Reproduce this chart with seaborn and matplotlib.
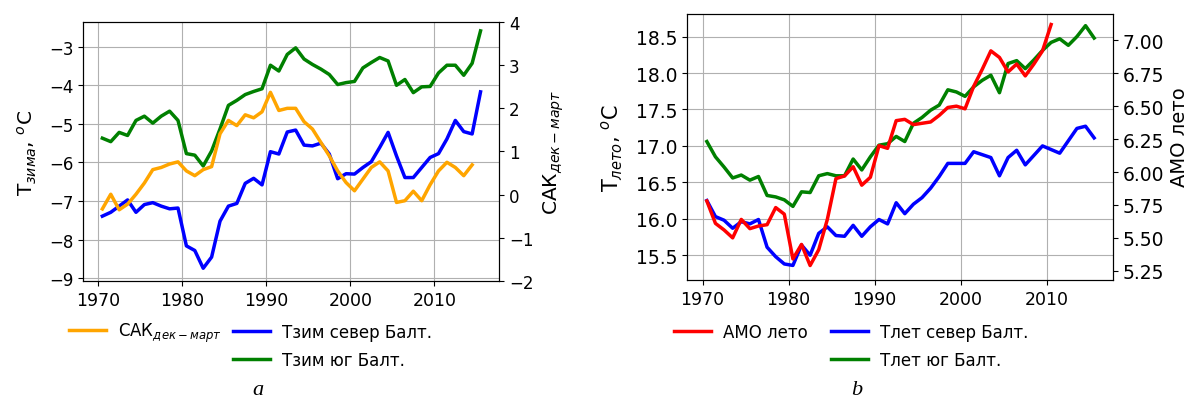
import numpy as np
import pandas as pd
import seaborn as sns
import matplotlib.pyplot as plt
from matplotlib.ticker import FormatStrFormatter

plt.rcParams['font.family'] = ['DejaVu Sans']
plt.rcParams['font.size'] = 12

# years (values plotted at mid-year)
years_all = np.arange(1970, 2016)

# panel a: winter
sak = [-0.33, 0.01, -0.35, -0.22, 0.01, 0.27, 0.58, 0.63, 0.71, 0.76,
       0.55, 0.44, 0.58, 0.65, 1.41, 1.72, 1.60, 1.85, 1.78, 1.92,
       2.37, 1.95, 2.00, 2.00, 1.69, 1.52, 1.21, 0.90, 0.55, 0.28,
       0.09, 0.36, 0.63, 0.76, 0.55, -0.18, -0.14, 0.08, -0.14, 0.23,
       0.55, 0.75, 0.63, 0.44, 0.69]
t_win_north = [-7.39, -7.29, -7.13, -6.97, -7.29, -7.09, -7.04, -7.13, -7.20, -7.18,
               -8.16, -8.28, -8.74, -8.45, -7.52, -7.13, -7.06, -6.54, -6.41, -6.58,
               -5.72, -5.78, -5.21, -5.16, -5.55, -5.57, -5.50, -5.78, -6.42, -6.29,
               -6.30, -6.13, -5.98, -5.61, -5.22, -5.83, -6.39, -6.39, -6.13, -5.87,
               -5.77, -5.39, -4.91, -5.20, -5.26, -4.17]
t_win_south = [-5.37, -5.46, -5.22, -5.30, -4.91, -4.80, -4.98, -4.80, -4.67, -4.91,
               -5.77, -5.81, -6.09, -5.70, -5.13, -4.52, -4.39, -4.24, -4.16, -4.09,
               -3.48, -3.63, -3.20, -3.03, -3.32, -3.46, -3.58, -3.72, -3.98, -3.93,
               -3.90, -3.55, -3.41, -3.28, -3.37, -4.00, -3.85, -4.19, -4.04, -4.03,
               -3.68, -3.48, -3.48, -3.74, -3.43, -2.59]

# panel b: summer
amo = [5.78, 5.61, 5.56, 5.50, 5.64, 5.57, 5.59, 5.60, 5.73, 5.68,
       5.34, 5.45, 5.29, 5.41, 5.64, 5.95, 5.97, 6.04, 5.90, 5.96,
       6.20, 6.18, 6.39, 6.40, 6.36, 6.37, 6.38, 6.43, 6.49, 6.50,
       6.48, 6.65, 6.78, 6.92, 6.87, 6.76, 6.82, 6.73, 6.82, 6.92,
       7.12]
t_sum_north = [16.25, 16.03, 15.98, 15.87, 15.96, 15.93, 15.99, 15.61, 15.48, 15.38,
               15.36, 15.64, 15.50, 15.80, 15.89, 15.77, 15.76, 15.91, 15.76, 15.89,
               15.99, 15.93, 16.22, 16.07, 16.20, 16.29, 16.42, 16.58, 16.76, 16.76,
               16.76, 16.92, 16.88, 16.84, 16.59, 16.84, 16.94, 16.74, 16.87, 17.00,
               16.95, 16.90, 17.07, 17.24, 17.27, 17.11]
t_sum_south = [17.06, 16.85, 16.71, 16.56, 16.60, 16.53, 16.58, 16.32, 16.30, 16.26,
               16.17, 16.37, 16.36, 16.59, 16.62, 16.59, 16.59, 16.82, 16.67, 16.85,
               17.01, 17.03, 17.13, 17.06, 17.31, 17.39, 17.49, 17.56, 17.77, 17.74,
               17.68, 17.81, 17.90, 17.97, 17.73, 18.13, 18.17, 18.06, 18.18, 18.31,
               18.42, 18.47, 18.38, 18.50, 18.65, 18.48]

lab_sak = r'САК$_{дек-март}$'
lab_wn = 'Тзим север Балт.'
lab_ws = 'Тзим юг Балт.'
lab_amo = 'АМО лето'
lab_sn = 'Тлет север Балт.'
lab_ss = 'Тлет юг Балт.'

LW = 2.5
YL = 14.5  # axis label size


def mid(n):
    return years_all[:n] + 0.5


fig = plt.figure(figsize=(11.93, 4.02), dpi=100)

# ---- panel a
ax = fig.add_axes([0.0696, 0.2985, 0.3487, 0.6443])
sns.lineplot(x=mid(len(t_win_north)), y=t_win_north, ax=ax, color='blue', lw=LW, legend=False)
sns.lineplot(x=mid(len(t_win_south)), y=t_win_south, ax=ax, color='green', lw=LW, legend=False)
ax.set_ylim(-9.07, -2.36)
ax.set_yticks(np.arange(-9, -2))
ax.set_xlim(1968.2, 2017.7)
ax.set_xticks([1970, 1980, 1990, 2000, 2010])
ax.tick_params(axis='x', labelsize=12.5)
ax.grid(True)
ax.set_ylabel(r'T$_{зима}$, $^o$C', fontsize=YL, labelpad=7)

ax2 = ax.twinx()
sns.lineplot(x=mid(len(sak)), y=sak, ax=ax2, color='orange', lw=LW, legend=False)
ax2.set_ylim(-2, 4)
ax2.set_yticks(np.arange(-2, 5))
ax2.set_ylabel(lab_sak, fontsize=YL, labelpad=6)

h_wn, h_ws = ax.get_lines()[0], ax.get_lines()[1]
h_sak = ax2.get_lines()[0]

# ---- panel b
bx = fig.add_axes([0.5759, 0.301, 0.3571, 0.6617])
sns.lineplot(x=mid(len(t_sum_north)), y=t_sum_north, ax=bx, color='blue', lw=LW, legend=False)
sns.lineplot(x=mid(len(t_sum_south)), y=t_sum_south, ax=bx, color='green', lw=LW, legend=False)
bx.set_ylim(15.16, 18.81)
bx.set_yticks(np.arange(15.5, 18.6, 0.5))
bx.yaxis.set_major_formatter(FormatStrFormatter('%.1f'))
bx.set_xlim(1968.2, 2017.7)
bx.set_xticks([1970, 1980, 1990, 2000, 2010])
bx.tick_params(axis='x', labelsize=12.5)
bx.tick_params(axis='y', labelsize=13.5)
bx.grid(True)
bx.set_ylabel(r'T$_{лето}$, $^o$C', fontsize=YL + 0.5, labelpad=8)

bx2 = bx.twinx()
sns.lineplot(x=mid(len(amo)), y=amo, ax=bx2, color='red', lw=LW, legend=False)
bx2.set_ylim(5.18, 7.20)
bx2.set_yticks(np.arange(5.25, 7.01, 0.25))
bx2.yaxis.set_major_formatter(FormatStrFormatter('%.2f'))
bx2.tick_params(axis='y', labelsize=13.5)
bx2.set_ylabel(lab_amo, fontsize=14, y=0.54)

h_sn, h_ss = bx.get_lines()[0], bx.get_lines()[1]
h_amo = bx2.get_lines()[0]

# ---- legends below panels
leg_kw = dict(frameon=False, handlelength=2.2, handletextpad=0.72, fontsize=12,
              labelspacing=0.6)
row1 = 1 - 333 / 402
mid_rows = 1 - 347 / 402
fig.legend([h_sak], [lab_sak], loc='center left', bbox_to_anchor=(0.0453, row1), **leg_kw)
fig.legend([h_wn, h_ws], [lab_wn, lab_ws], loc='center left', bbox_to_anchor=(0.1827, mid_rows), **leg_kw)
fig.legend([h_amo], [lab_amo], loc='center left', bbox_to_anchor=(0.5524, row1), **leg_kw)
fig.legend([h_sn, h_ss], [lab_sn, lab_ss], loc='center left', bbox_to_anchor=(0.6840, mid_rows), **leg_kw)

fig.text(0.2163, 1 - 391 / 402, 'a', ha='center', va='center', fontsize=16,
         family='Liberation Serif', style='italic')
fig.text(0.718, 1 - 391 / 402, 'b', ha='center', va='center', fontsize=16,
         family='Liberation Serif', style='italic')

fig.savefig('out.png', dpi=100)
